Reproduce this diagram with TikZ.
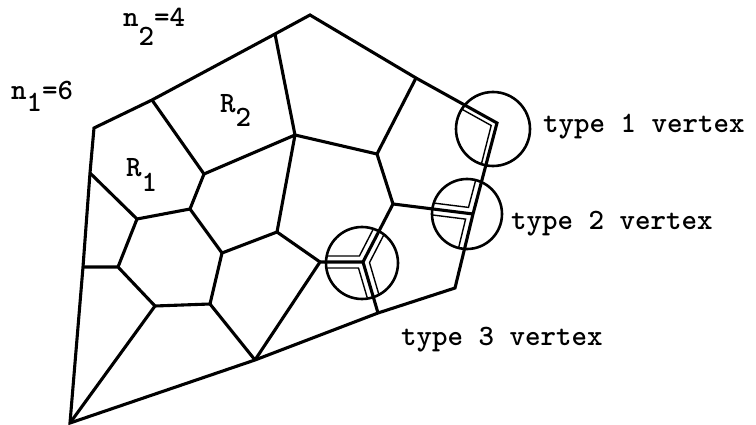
\documentclass[tikz,border=0pt]{standalone}
\usepackage{fontspec}
\usepackage{tikz}
\definecolor{inkblack}{HTML}{000000}

\begin{document}
\begin{tikzpicture}[x=1pt,y=-1pt,
  cell/.style={draw=inkblack,line width=3.1pt,line join=miter},
  ring/.style={draw=inkblack,line width=2.6pt},
  corner/.style={draw=inkblack,line width=1.4pt,line join=miter},
  lbl/.style={anchor=base west,inner sep=0pt,font=\ttfamily\bfseries\fontsize{29.5}{34}\selectfont}]
\useasboundingbox (0,0) rectangle (756,425);
% outer boundary
\coordinate (b1) at (70,423);
\coordinate (p2) at (83,267);
\coordinate (p1) at (90,173);
\coordinate (b2) at (94,128);
\coordinate (b3) at (152,100);
\coordinate (b4) at (275,34);
\coordinate (b5) at (310,15);
\coordinate (b6) at (416,78);
\coordinate (b7) at (497,123);
\coordinate (b8) at (473,214);
\coordinate (b9) at (455,288);
\coordinate (b10) at (378,313);
\coordinate (b11) at (255,360);
% inner vertices
\coordinate (v1) at (137,219);
\coordinate (v2) at (204,174);
\coordinate (v3) at (190,209);
\coordinate (v4) at (295,135);
\coordinate (v5) at (377,154);
\coordinate (v6) at (393,204);
\coordinate (v7) at (320,262);
\coordinate (v8) at (222,253);
\coordinate (v9) at (277,232);
\coordinate (v10) at (210,304);
\coordinate (v11) at (155,306);
\coordinate (v12) at (118,267);
\coordinate (t3) at (363,262);
\draw[cell] (b1) -- (p2) -- (p1) -- (b2) -- (b3) -- (b4) -- (b5) -- (b6) -- (b7) -- (b8) -- (b9) -- (b10) -- (b11) -- cycle;
\draw[cell] (p1) -- (v1) -- (v3) -- (v2) -- (b3);
\draw[cell] (v2) -- (v4) -- (b4);
\draw[cell] (v4) -- (v5) -- (b6);
\draw[cell] (v5) -- (v6) -- (b8);
\draw[cell] (v6) -- (t3) -- (b10);
\draw[cell] (t3) -- (v7) -- (b11);
\draw[cell] (v7) -- (v9) -- (v4);
\draw[cell] (v9) -- (v8) -- (v3);
\draw[cell] (v8) -- (v10) -- (b11);
\draw[cell] (v10) -- (v11) -- (b1);
\draw[cell] (v11) -- (v12) -- (p2);
\draw[cell] (v12) -- (v1);
% circled vertices
\coordinate (c1) at (493,129);
\coordinate (c2) at (467,214);
\coordinate (c3) at (362,263);
\begin{scope}
\clip (c1) circle[radius=36pt];
\draw[corner] (438.8,96.4) -- (491.2,125.5) -- (476.4,183.6);
\end{scope}
\begin{scope}
\clip (c2) circle[radius=34pt];
\draw[corner] (483.8,149.4) -- (468.5,207.4) -- (409,200);
\draw[corner] (406.1,211.7) -- (465.6,219.1) -- (451.4,277.4);
\end{scope}
\begin{scope}
\clip (c3) circle[radius=35pt];
\draw[corner] (386.9,202.7) -- (359.4,256) -- (299.4,256);
\draw[corner] (298.5,268) -- (358.5,268) -- (375.4,325.5);
\draw[corner] (386.4,320.1) -- (369.5,262.6) -- (397,209.3);
\end{scope}
\draw[ring] (c1) circle[radius=37pt];
\draw[ring] (c2) circle[radius=35pt];
\draw[ring] (c3) circle[radius=36pt];
% labels
\node[lbl] (n1) at (11,100) {n\raisebox{-12pt}{1}=6};
\node[lbl] (n2) at (123,27) {n\raisebox{-19pt}{2}=4};
\node[lbl] (r1) at (126,177) {R\raisebox{-15pt}{1}};
\node[lbl] (r2) at (220,113) {R\raisebox{-14pt}{2}};
\node[lbl] (type1) at (543,133) {type 1 vertex};
\node[lbl] (type2) at (511,230) {type 2 vertex};
\node[lbl] (type3) at (401,345) {type 3 vertex};
\end{tikzpicture}
\end{document}
